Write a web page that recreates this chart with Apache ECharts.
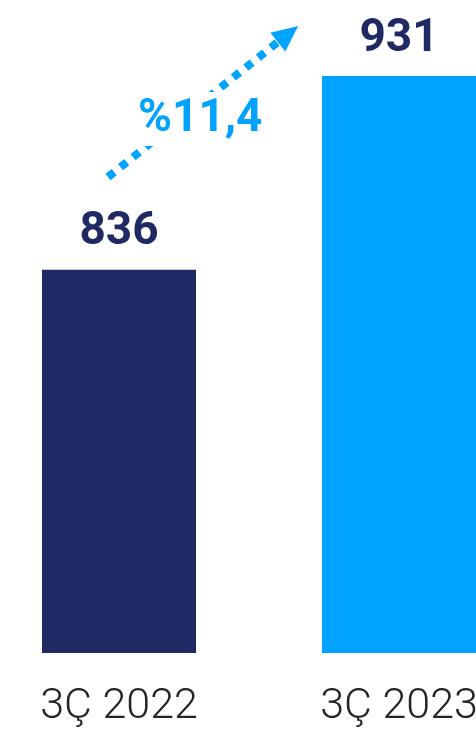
<!DOCTYPE html>
<html>
<head>
<meta charset="utf-8">
<script src="https://cdn.jsdelivr.net/npm/echarts@6/dist/echarts.min.js"></script>
<style>
html,body{margin:0;padding:0;background:#fff;}
#chart{width:476px;height:737px;}
</style>
</head>
<body>
<div id="chart"></div>
<script>
const categories = ['3Ç 2022', '3Ç 2023'];
const values = [836, 931];
const growthLabel = '%11,4';

const NAVY = '#1f2a64';
const BLUE = '#00a3ff';
const barColors = [NAVY, BLUE];

const chart = echarts.init(document.getElementById('chart'), null, {renderer: 'canvas'});
chart.setOption({
  animation: false,
  backgroundColor: '#ffffff',
  grid: {left: -21, width: 560, top: 17, bottom: 84, containLabel: false, outerBoundsMode: 'none'},
  xAxis: {
    type: 'category',
    data: categories,
    axisLine: {show: false},
    axisTick: {show: false},
    axisLabel: {
      margin: 33,
      fontFamily: 'Roboto',
      fontWeight: 300,
      fontSize: 43,
      color: '#222428'
    }
  },
  yAxis: {
    type: 'value',
    min: 648,
    max: 960,
    show: false,
    splitLine: {show: false}
  },
  series: [{
    type: 'bar',
    data: values.map((v, i) => ({value: v, itemStyle: {color: barColors[i]}})),
    barWidth: 154,
    label: {
      show: true,
      position: 'top',
      distance: 14,
      fontFamily: 'Roboto',
      fontWeight: 'bold',
      fontSize: 46,
      color: NAVY
    },
    markLine: {
      silent: true,
      symbol: ['none', 'triangle'],
      symbolSize: [24, 26],
      label: {show: false},
      lineStyle: {color: BLUE, width: 8, type: [8, 8], cap: 'butt'},
      data: [[{x: 108, y: 177}, {x: 288, y: 34}]]
    }
  }],
  graphic: [{
    type: 'text',
    z: 100,
    left: 130,
    top: 92,
    style: {
      text: growthLabel,
      fontFamily: 'Roboto',
      fontWeight: 'bold',
      fontSize: 46,
      fill: BLUE,
      backgroundColor: '#ffffff',
      padding: [4, 8, 4, 8]
    }
  }]
});
</script>
</body>
</html>
